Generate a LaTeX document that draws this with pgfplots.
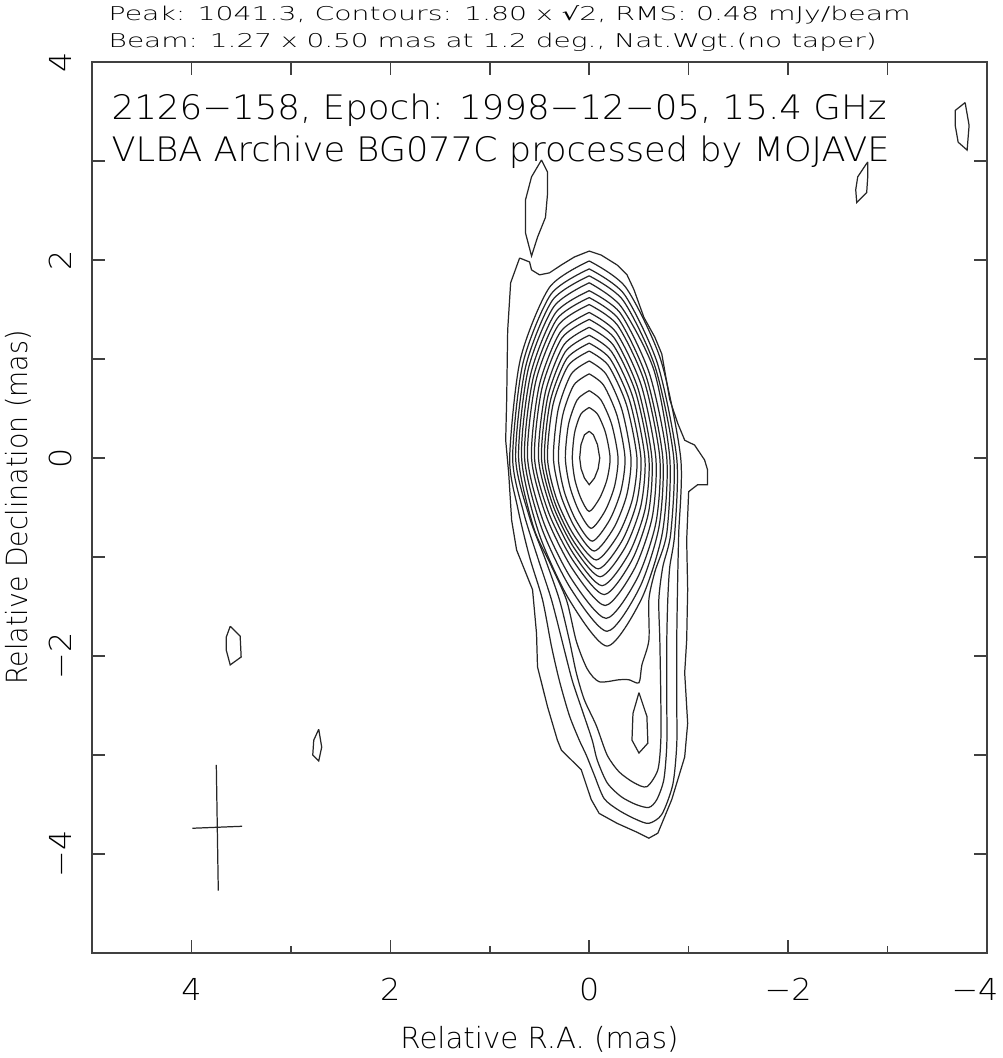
\documentclass[border=0pt]{standalone}
\usepackage{fontspec}
\usepackage{graphicx}
\IfFontExistsTF{DejaVu Sans ExtraLight}{\setmainfont{DejaVu Sans ExtraLight}}{\setmainfont{Liberation Sans}}
\newfontfamily\djv{DejaVu Sans}
\usepackage{pgfplots}
\pgfplotsset{compat=1.18}
\pgfplotsset{
  cont/.style={black!85, line width=0.35pt, smooth, tension=0.45},
  contp/.style={black!85, line width=0.35pt, sharp plot},
  frame/.style={scale only axis, width=8.95cm, height=8.91cm,
    xmin=-4, xmax=5, ymin=-5, ymax=4, x dir=reverse,
    tick align=inside, major tick length=0.13cm, minor tick length=0.07cm,
    every tick/.style={black!75, line width=0.45pt},
    axis line style={black!75, line width=0.5pt}},
}
\newcommand{\tl}[1]{\scalebox{1.05}[1]{#1}}
\begin{document}
\begin{tikzpicture}
% top ticks (all integers, equal length)
\begin{axis}[frame, xtick={-4,-3,...,5}, xtick pos=right, xticklabels={}, ytick=\empty]
\end{axis}
\begin{axis}[
  frame,
  xtick={-4,-2,...,4}, minor xtick={-3,-1,1,3}, xtick pos=left,
  xticklabels={\tl{−4}\rule{0.24cm}{0pt},\tl{−2},\tl{0},\tl{2},\tl{4}},
  ytick={-4,-3,...,4}, yticklabels={\tl{−4},,\tl{−2},,\tl{0},,\tl{2},,\tl{4}},
  xticklabel style={font=\fontsize{8.6}{9}\selectfont, anchor=base, inner sep=0pt, yshift=-0.47cm, text=black},
  yticklabel style={font=\fontsize{8.6}{9}\selectfont, xshift=-0.20cm, rotate=90, anchor=base, inner sep=0pt, text=black},
  xlabel={\resizebox{2.78cm}{\height}{Relative R.A. (mas)}},
  ylabel={\resizebox{3.54cm}{\height}{Relative Declination (mas)}},
  xlabel style={font=\fontsize{8.3}{9}\selectfont, at={(axis description cs:0.5,-0.1077)}, anchor=base, inner sep=0pt, text=black},
  ylabel style={font=\fontsize{8.3}{9}\selectfont, at={(axis description cs:-0.0715,0.5)}, rotate=0, anchor=base, inner sep=0pt, text=black},
  clip=true,
]
% outermost contour (level 0)
\addplot[contp] coordinates {(0.70,2.02) (0.60,1.98) (0.58,1.90) (0.50,1.85) (0.40,1.87) (0.28,1.95) (0.15,2.03) (0.00,2.09) (-0.12,2.05) (-0.28,1.95) (-0.38,1.85) (-0.45,1.70) (-0.55,1.42) (-0.66,1.22) (-0.73,1.05) (-0.81,0.59) (-0.89,0.35) (-0.96,0.18) (-1.06,0.13) (-1.16,-0.02) (-1.19,-0.12) (-1.19,-0.27) (-1.09,-0.27) (-1.00,-0.34) (-0.98,-0.83) (-0.99,-1.33) (-0.98,-1.84) (-0.96,-2.17) (-0.99,-2.68) (-0.96,-3.02) (-0.83,-3.45) (-0.69,-3.79) (-0.60,-3.84) (-0.48,-3.78) (-0.28,-3.69) (-0.10,-3.59) (-0.02,-3.45) (0.08,-3.15) (0.28,-2.95) (0.32,-2.85) (0.42,-2.51) (0.52,-2.11) (0.53,-1.77) (0.57,-1.33) (0.73,-0.93) (0.78,-0.63) (0.81,-0.15) (0.84,0.18) (0.83,0.59) (0.82,1.29) (0.79,1.77) (0.70,2.02)};
% level 1
\addplot[cont] coordinates {(0,1.99) (-0.368,1.723) (-0.718,0.995) (-0.92,0) (-0.90,-0.76) (-0.89,-1.2) (-0.88,-1.85) (-0.88,-2.45) (-0.88,-2.9) (-0.84,-3.3) (-0.73,-3.6) (-0.60,-3.69) (-0.47,-3.65) (-0.30,-3.56) (-0.15,-3.44) (-0.05,-3.2) (0.03,-3.0) (0.10,-2.85) (0.20,-2.6) (0.30,-2.25) (0.38,-1.9) (0.47,-1.43) (0.60,-1.0) (0.72,-0.5) (0.80,0) (0.693,0.995) (0.40,1.723) (0,1.99)};
% level 2
\addplot[cont] coordinates {(0,1.91) (-0.352,1.654) (-0.686,0.955) (-0.88,0) (-0.86,-0.76) (-0.81,-1.1) (-0.79,-1.43) (-0.78,-1.85) (-0.78,-2.45) (-0.78,-2.9) (-0.75,-3.25) (-0.68,-3.45) (-0.60,-3.53) (-0.47,-3.50) (-0.32,-3.42) (-0.18,-3.28) (-0.08,-3.05) (-0.03,-2.85) (0.07,-2.55) (0.17,-2.25) (0.26,-1.9) (0.38,-1.43) (0.52,-1.0) (0.66,-0.55) (0.77,0) (0.667,0.955) (0.385,1.654) (0,1.91)};
% level 3
\addplot[cont] coordinates {(0,1.84) (-0.34,1.593) (-0.663,0.92) (-0.85,0) (-0.82,-0.76) (-0.74,-1.1) (-0.70,-1.43) (-0.71,-1.84) (-0.72,-2.44) (-0.72,-2.85) (-0.69,-3.15) (-0.58,-3.32) (-0.45,-3.28) (-0.30,-3.17) (-0.18,-3.0) (-0.07,-2.70) (0.05,-2.44) (0.13,-2.17) (0.20,-1.84) (0.30,-1.43) (0.45,-1.0) (0.60,-0.6) (0.74,0) (0.64,0.92) (0.37,1.593) (0,1.84)};
% level 4
\addplot[cont] coordinates {(0,1.77) (-0.32,1.53) (-0.65,0.89) (-0.81,0) (-0.78,-0.76) (-0.66,-1.15) (-0.60,-1.43) (-0.60,-1.84) (-0.53,-2.09) (-0.50,-2.27) (-0.40,-2.24) (-0.30,-2.24) (-0.10,-2.26) (0.02,-2.13) (0.13,-1.85) (0.23,-1.43) (0.40,-1.05) (0.56,-0.70) (0.71,0) (0.615,0.89) (0.355,1.53) (0,1.77)};
\addplot[contp] coordinates {(-0.50,-2.37) (-0.58,-2.61) (-0.59,-2.88) (-0.50,-2.98) (-0.43,-2.85) (-0.44,-2.58) (-0.50,-2.37)};
% levels 5..18
\addplot[cont] coordinates {(0,1.69) (-0.312,1.464) (-0.608,0.845) (-0.78,0) (-0.735,-0.76) (-0.525,-1.425) (-0.18,-1.90) (0.205,-1.425) (0.506,-0.76) (0.68,0) (0.589,0.845) (0.34,1.464) (0,1.69)};
\addplot[cont] coordinates {(0,1.62) (-0.296,1.403) (-0.577,0.81) (-0.74,0) (-0.701,-0.70) (-0.505,-1.313) (-0.18,-1.75) (0.19,-1.313) (0.481,-0.70) (0.65,0) (0.563,0.81) (0.325,1.403) (0,1.62)};
\addplot[cont] coordinates {(0,1.55) (-0.284,1.342) (-0.554,0.775) (-0.71,0) (-0.672,-0.648) (-0.483,-1.215) (-0.17,-1.62) (0.183,-1.215) (0.459,-0.648) (0.62,0) (0.537,0.775) (0.31,1.342) (0,1.55)};
\addplot[cont] coordinates {(0,1.47) (-0.268,1.273) (-0.523,0.735) (-0.67,0) (-0.634,-0.596) (-0.455,-1.118) (-0.16,-1.49) (0.17,-1.118) (0.429,-0.596) (0.58,0) (0.502,0.735) (0.29,1.273) (0,1.47)};
\addplot[cont] coordinates {(0,1.40) (-0.252,1.212) (-0.491,0.70) (-0.63,0) (-0.596,-0.552) (-0.428,-1.035) (-0.15,-1.38) (0.163,-1.035) (0.408,-0.552) (0.55,0) (0.476,0.70) (0.275,1.212) (0,1.40)};
\addplot[cont] coordinates {(0,1.32) (-0.24,1.143) (-0.468,0.66) (-0.60,0) (-0.562,-0.516) (-0.398,-0.968) (-0.13,-1.29) (0.158,-0.968) (0.382,-0.516) (0.51,0) (0.442,0.66) (0.255,1.143) (0,1.32)};
\addplot[cont] coordinates {(0,1.24) (-0.224,1.074) (-0.437,0.62) (-0.56,0) (-0.52,-0.48) (-0.363,-0.90) (-0.11,-1.20) (0.158,-0.90) (0.364,-0.48) (0.48,0) (0.416,0.62) (0.24,1.074) (0,1.24)};
\addplot[cont] coordinates {(0,1.16) (-0.208,1.005) (-0.406,0.58) (-0.52,0) (-0.478,-0.448) (-0.328,-0.84) (-0.09,-1.12) (0.158,-0.84) (0.347,-0.448) (0.45,0) (0.39,0.58) (0.225,1.005) (0,1.16)};
\addplot[cont] coordinates {(0,1.08) (-0.192,0.935) (-0.374,0.54) (-0.48,0) (-0.436,-0.412) (-0.293,-0.773) (-0.07,-1.03) (0.158,-0.773) (0.329,-0.412) (0.42,0) (0.364,0.54) (0.21,0.935) (0,1.08)};
\addplot[cont] coordinates {(0,0.98) (-0.168,0.849) (-0.328,0.49) (-0.42,0) (-0.377,-0.376) (-0.248,-0.705) (-0.05,-0.94) (0.143,-0.705) (0.286,-0.376) (0.36,0) (0.312,0.49) (0.18,0.849) (0,0.98)};
\addplot[cont] coordinates {(0,0.85) (-0.144,0.736) (-0.281,0.425) (-0.36,0) (-0.318,-0.336) (-0.203,-0.63) (-0.03,-0.84) (0.133,-0.63) (0.252,-0.336) (0.31,0) (0.268,0.425) (0.155,0.736) (0,0.85)};
\addplot[cont] coordinates {(0,0.68) (-0.116,0.589) (-0.226,0.34) (-0.29,0) (-0.255,-0.284) (-0.16,-0.533) (-0.02,-0.71) (0.105,-0.533) (0.196,-0.284) (0.24,0) (0.208,0.34) (0.12,0.589) (0,0.68)};
\addplot[cont] coordinates {(0,0.51) (-0.084,0.442) (-0.164,0.255) (-0.21,0) (-0.179,-0.216) (-0.105,-0.405) (0,-0.54) (0.085,-0.405) (0.145,-0.216) (0.17,0) (0.147,0.255) (0.085,0.442) (0,0.51)};
\addplot[contp] coordinates {(0,0.27) (-0.042,0.234) (-0.083,0.135) (-0.106,0) (-0.09,-0.108) (-0.053,-0.203) (0,-0.27) (0.048,-0.203) (0.082,-0.108) (0.096,0) (0.083,0.135) (0.048,0.234) (0,0.27)};
% noise islands
\addplot[contp] coordinates {(0.48,3.01) (0.42,2.89) (0.42,2.66) (0.44,2.43) (0.52,2.23) (0.58,2.04) (0.64,2.27) (0.64,2.61) (0.58,2.84) (0.48,3.01)};
\addplot[contp] coordinates {(-3.78,3.59) (-3.82,3.36) (-3.80,3.11) (-3.71,3.19) (-3.68,3.36) (-3.68,3.51) (-3.78,3.59)};
\addplot[contp] coordinates {(-2.80,2.99) (-2.80,2.83) (-2.79,2.68) (-2.69,2.58) (-2.68,2.71) (-2.70,2.84) (-2.80,2.99)};
\addplot[contp] coordinates {(3.61,-1.70) (3.51,-1.80) (3.50,-2.01) (3.61,-2.09) (3.65,-1.94) (3.65,-1.81) (3.61,-1.70)};
\addplot[contp] coordinates {(2.72,-2.74) (2.69,-2.92) (2.72,-3.06) (2.78,-3.00) (2.77,-2.85) (2.72,-2.74)};
% beam
\addplot[contp] coordinates {(3.75,-3.10) (3.73,-4.37)};
\addplot[contp] coordinates {(3.99,-3.74) (3.49,-3.72)};
% in-plot labels
\node[anchor=base west, inner sep=0pt, font=\fontsize{9.6}{10}\selectfont, text=black] at (axis cs:4.81,3.42) {\resizebox{7.75cm}{\height}{2126−158, Epoch: 1998−12−05, 15.4 GHz}};
\node[anchor=base west, inner sep=0pt, font=\fontsize{9.6}{10}\selectfont, text=black] at (axis cs:4.81,2.99) {\resizebox{7.78cm}{\height}{VLBA Archive BG077C processed by MOJAVE}};
\end{axis}
\node[anchor=base west, inner sep=0pt, font=\fontsize{5.4}{6}\selectfont, text=black] at ([xshift=0.16cm, yshift=0.41cm]current axis.north west) {\resizebox{8.02cm}{\height}{Peak: 1041.3, Contours: 1.80 x {\djv\fontsize{5.2}{6}\selectfont √}2, RMS: 0.48 mJy/beam}};
\node[anchor=base west, inner sep=0pt, font=\fontsize{5.4}{6}\selectfont, text=black] at ([xshift=0.16cm, yshift=0.14cm]current axis.north west) {\resizebox{7.68cm}{\height}{Beam: 1.27 x 0.50 mas at 1.2 deg., Nat.Wgt.(no taper)}};
\pgfresetboundingbox
\path[use as bounding box] ([xshift=-0.92cm, yshift=-1.05cm]current axis.south west) rectangle ([xshift=0.15cm, yshift=0.62cm]current axis.north east);
\end{tikzpicture}
\end{document}
